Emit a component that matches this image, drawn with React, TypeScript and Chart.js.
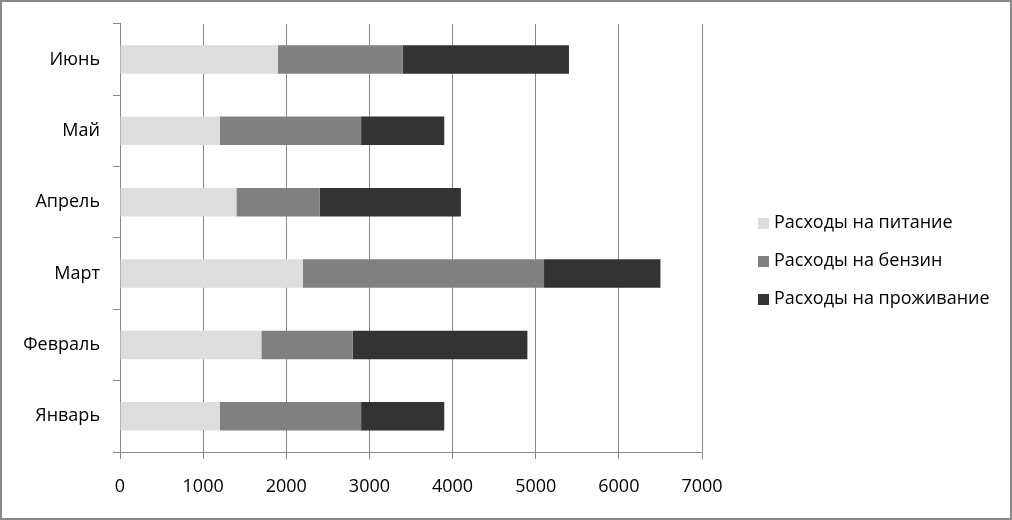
import React, { useEffect, useRef } from "react";
import { Chart, registerables } from "chart.js";

Chart.register(...registerables);

const months = ["Январь", "Февраль", "Март", "Апрель", "Май", "Июнь"];
const seriesNames = ["Расходы на питание", "Расходы на бензин", "Расходы на проживание"];
const food = [1200, 1700, 2200, 1400, 1200, 1900];
const fuel = [1700, 1100, 2900, 1000, 1700, 1500];
const housing = [1000, 2100, 1400, 1700, 1000, 2000];
const colors = ["#dddddd", "#808080", "#333333"];
const FONT = "'Open Sans', sans-serif";

const framePlugin = {
  id: "frame",
  afterDraw(chart: any) {
    const { ctx, width, height } = chart;
    ctx.save();
    ctx.strokeStyle = "#878787";
    ctx.lineWidth = 2;
    ctx.strokeRect(1, 1, width - 2, height - 2);
    ctx.restore();
  },
};

const legendPlugin = {
  id: "customLegend",
  afterDraw(chart: any) {
    const { ctx, chartArea, height } = chart;
    const ds = chart.data.datasets;
    const x0 = chartArea.right + 56;
    const spacing = 38;
    const cy = height / 2 + 1;
    ctx.save();
    ctx.font = `18px ${FONT}`;
    ctx.textBaseline = "middle";
    ctx.textAlign = "left";
    ds.forEach((d: any, i: number) => {
      const y = cy + (i - (ds.length - 1) / 2) * spacing;
      ctx.fillStyle = d.backgroundColor;
      ctx.fillRect(x0, y - 5, 11, 11);
      ctx.fillStyle = "#000";
      ctx.fillText(d.label, x0 + 16, y);
    });
    ctx.restore();
  },
};

export default function App() {
  const ref = useRef<HTMLCanvasElement>(null);
  useEffect(() => {
    document.body.style.margin = "0";
    const chart = new Chart(ref.current!, {
      type: "bar",
      data: {
        labels: months,
        datasets: [food, fuel, housing].map((d, i) => ({
          label: seriesNames[i],
          data: d,
          backgroundColor: colors[i],
          borderWidth: 0,
          barPercentage: 0.8,
          categoryPercentage: 0.5,
        })),
      },
      options: {
        indexAxis: "y",
        animation: false,
        responsive: false,
        maintainAspectRatio: false,
        layout: { padding: { top: 23, right: 310, left: 0, bottom: 0 } },
        plugins: { legend: { display: false }, tooltip: { enabled: false } },
        scales: {
          x: {
            stacked: true,
            min: 0,
            max: 7000,
            ticks: {
              stepSize: 1000,
              color: "#000",
              font: { family: FONT, size: 18 },
              padding: 17,
              maxRotation: 0,
              callback: (v: any) => String(v),
            },
            grid: { color: "#868686", lineWidth: 1, tickLength: 7, drawTicks: true },
            border: { display: true, color: "#868686" },
            afterFit: (s: any) => { s.height = 68; },
          },
          y: {
            stacked: true,
            reverse: true,
            ticks: { color: "#000", font: { family: FONT, size: 18 }, padding: 13 },
            grid: { offset: true, drawOnChartArea: false, drawTicks: true, tickLength: 7, color: "#868686" },
            border: { display: true, color: "#868686" },
            afterFit: (s: any) => { s.width = 120; },
          },
        },
      },
      plugins: [legendPlugin, framePlugin],
    });
    return () => chart.destroy();
  }, []);
  return (
    <div style={{ width: 1012, height: 520, position: "relative", background: "#fff" }}>
      <canvas ref={ref} width={1012} height={520} style={{ display: "block" }} />
    </div>
  );
}
